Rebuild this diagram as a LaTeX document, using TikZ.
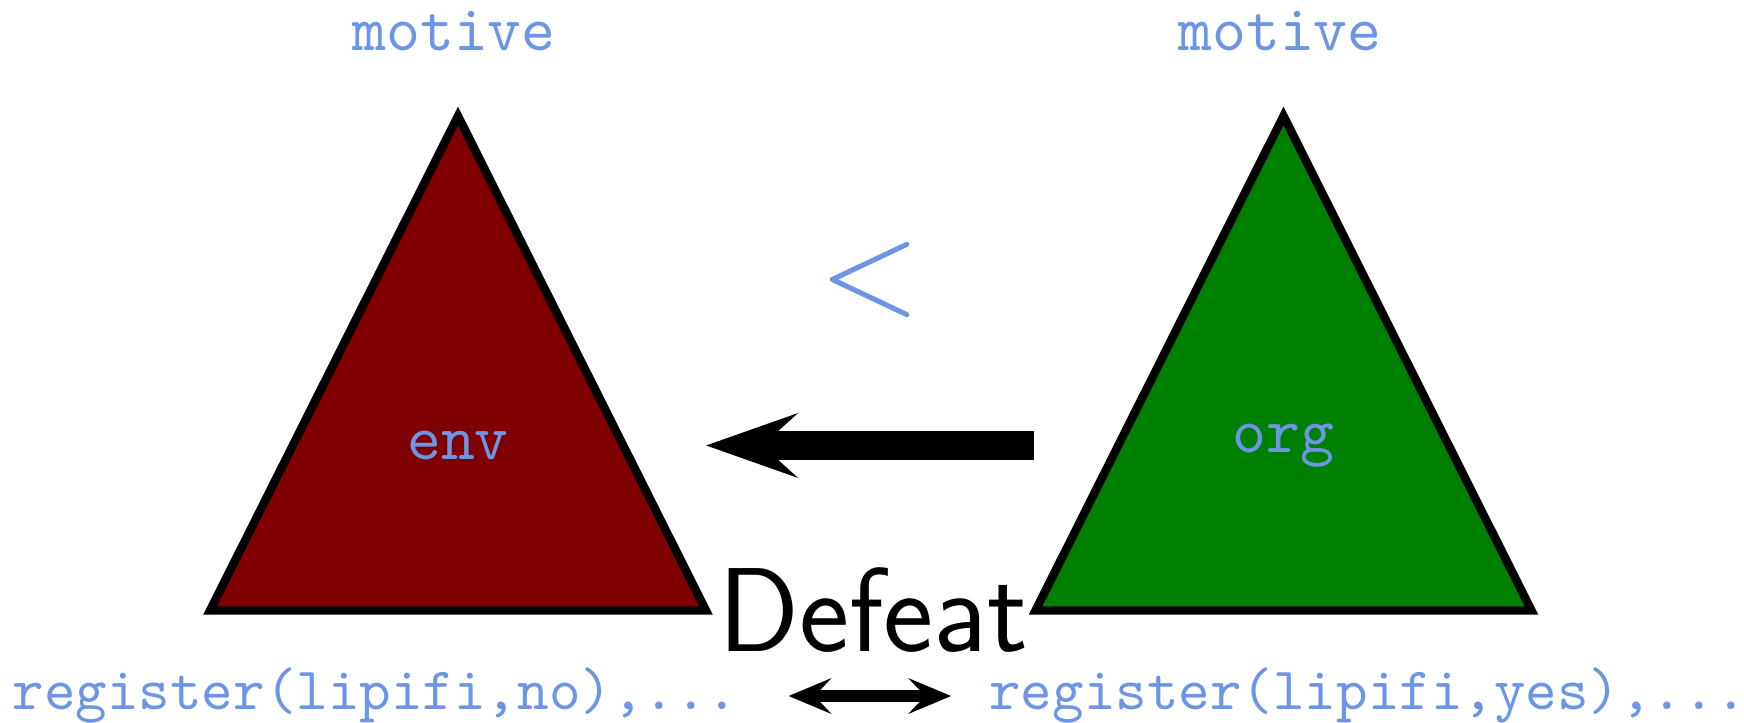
\documentclass[tikz,border=0pt]{standalone}
\usepackage{fontspec}
\setmonofont{lmmono10-regular.otf}
\newfontfamily\lessfont{lmroman10-regular.otf}
\usetikzlibrary{arrows.meta}
\definecolor{motiveblue}{RGB}{108,149,230}
\definecolor{envred}{RGB}{128,0,0}
\definecolor{orggreen}{RGB}{0,128,0}
\begin{document}
\begin{tikzpicture}[
  tri/.style={draw=black, line width=2.4pt, line join=miter},
  lbl/.style={text=motiveblue, inner sep=2pt, font=\fontsize{18.4}{20}\selectfont\ttfamily},
  reg/.style={lbl, font=\fontsize{17.1}{20}\selectfont\ttfamily},
  defeat/.style={inner sep=2pt, font=\fontsize{34}{40}\selectfont\sffamily},
  less/.style={text=motiveblue, inner sep=0pt, font=\fontsize{37}{40}\selectfont\lessfont},
  push/.style={line width=8.2pt,
               -{Stealth[length=9.2mm, width=6.5mm, inset=3.6mm, line width=0pt]}},
  swap/.style={line width=3.2pt,
               {Stealth[length=4.3mm, width=3.6mm, inset=1.7mm, line width=0pt]}-{Stealth[length=4.3mm, width=3.6mm, inset=1.7mm, line width=0pt]}}
]
\useasboundingbox (0,0) rectangle (17.44,7.23);
% triangles
\draw[tri, fill=envred]   (2.10,1.125)  -- (7.06,1.125)   -- (4.58,6.07)   -- cycle;
\draw[tri, fill=orggreen] (10.355,1.125) -- (15.315,1.125) -- (12.835,6.07) -- cycle;
% labels on top
\node[lbl, anchor=base] (motiveenv) at (4.54,6.72)  {motive};
\node[lbl, anchor=base] (motiveorg) at (12.80,6.72) {motive};
\node[lbl] (env) at (4.58,2.775)  {env};
\node[lbl] (org) at (12.835,2.775) {org};
\node[less] (lt) at (8.70,4.43) {<};
% registers below
\node[reg, anchor=base] (regno)  at (3.755,0.13) {register(lipifi,no),...};
\node[reg, anchor=base] (regyes) at (13.68,0.13) {register(lipifi,yes),...};
\node[defeat, anchor=base] (defeat) at (8.73,0.71) {Defeat};
% arrows
\draw[push, shorten <=1.91cm, shorten >=1.895cm] (org) -- (env);
\draw[swap, shorten <=0.425cm, shorten >=0.305cm] (regno) -- (regyes);
\end{tikzpicture}
\end{document}
